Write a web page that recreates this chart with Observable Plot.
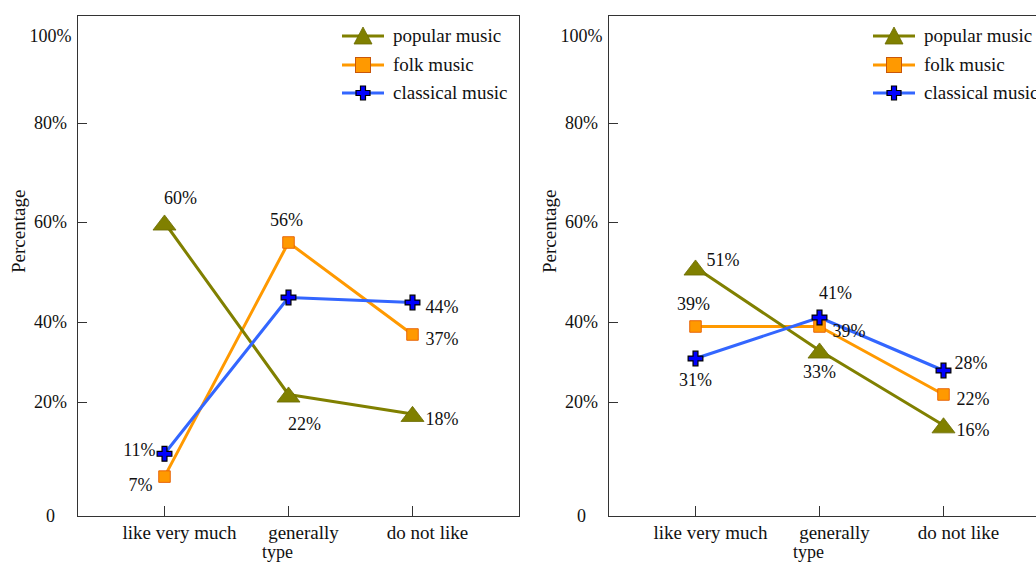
<!DOCTYPE html>
<html><head><meta charset="utf-8">
<script src="https://cdn.jsdelivr.net/npm/d3@7"></script>
<script src="https://cdn.jsdelivr.net/npm/@observablehq/plot@0.6"></script>
<style>
body{margin:0;background:#fff;}
#wrap{display:flex;width:1036px;height:567px;overflow:hidden;}
.chart{position:relative;flex:none;width:531px;height:567px;}
.chart svg text{font-family:'Liberation Serif','Tinos','Times New Roman','DejaVu Serif',serif;}
.legend{position:absolute;left:342px;top:22px;font-family:'Liberation Serif','Tinos','Times New Roman','DejaVu Serif',serif;font-size:19px;color:#111;white-space:nowrap;}
.legend .row{display:flex;align-items:center;height:28.5px;}
.legend svg{margin-right:9px;flex:none;}
</style></head><body><div id="wrap"></div>
<script>
// ---- data ----
const categories = ["like very much", "generally", "do not like"];
const seriesNames = ["popular music", "folk music", "classical music"];
const yTickValues = [0, 20, 40, 60, 80, 100];
const yTickLabels = ["0", "20%", "40%", "60%", "80%", "100%"];
const xTitle = "type";
const yTitle = "Percentage";

// left panel
const leftPopular = [60, 22, 18];
const leftFolk = [7, 56, 37];
const leftClassical = [11, 45, 44];
const leftPopularText = ["60%", "22%", "18%"];
const leftFolkText = ["7%", "56%", "37%"];
const leftClassicalText = ["11%", "", "44%"];

// right panel
const rightPopular = [51, 33, 16];
const rightFolk = [39, 39, 22];
const rightClassical = [31, 41, 28];
const rightPopularText = ["51%", "33%", "16%"];
const rightFolkText = ["39%", "39%", "22%"];
const rightClassicalText = ["31%", "41%", "28%"];

// ---- styling ----
const leftPlaces = [["above-right", "below-right", "right"], ["below-left", "above", "right"], ["left", null, "right"]];
const rightPlaces = [["right-up", "below", "right"], ["above", "right", "right"], ["below", "above-right", "right-up"]];
const placement = {
  "above": {textAnchor: "middle", dx: -2, dy: -22},
  "above-right": {textAnchor: "middle", dx: 16, dy: -24},
  "right": {textAnchor: "start", dx: 13, dy: 5},
  "right-up": {textAnchor: "start", dx: 11, dy: -7},
  "below": {textAnchor: "middle", dx: 0, dy: 22},
  "below-right": {textAnchor: "middle", dx: 16, dy: 30},
  "left": {textAnchor: "end", dx: -9, dy: -4},
  "below-left": {textAnchor: "end", dx: -12, dy: 9}
};
const lineColors = ["#808000", "#FF9900", "#3366FF"];
const font = "'Liberation Serif','Tinos','Times New Roman','DejaVu Serif',serif";
const W = 531, H = 567, mL = 77, mR = 12, mT = 15, mB = 51;

const flatTriangle = {
  draw(ctx, size) {
    const r = Math.sqrt(size / Math.PI);
    const w = 3.2 * r, h = 2.1 * r;
    ctx.moveTo(0, -h / 2);
    ctx.lineTo(w / 2, h / 2);
    ctx.lineTo(-w / 2, h / 2);
    ctx.closePath();
  }
};

function makePanel(vals, texts, places) {
  const rows = [];
  seriesNames.forEach((s, si) => categories.forEach((c, ci) => rows.push({
    series: s, cat: c, value: vals[si][ci], text: texts[si][ci], place: places[si][ci]
  })));
  const bySeries = (s) => rows.filter(r => r.series === s);
  const labelMarks = Object.entries(placement).map(([k, p]) =>
    Plot.text(rows.filter(r => r.place === k && r.text), {
      x: "cat", y: "value", text: "text", fontSize: 18, fill: "#111", ...p
    }));
  return Plot.plot({
    width: W, height: H, marginLeft: mL, marginRight: mR, marginTop: mT, marginBottom: mB,
    style: {fontFamily: font, fontSize: "18px", color: "#111", background: "transparent"},
    x: {type: "point", domain: categories, range: [163, 412], padding: 0},
    y: {type: "linear", domain: yTickValues, range: [516, 402, 322, 222, 123, 36]},
    color: {domain: seriesNames, range: lineColors},
    marks: [
      Plot.frame({stroke: "#333"}),
      Plot.tickY(yTickValues.slice(1, -1), {y: d => d, stroke: "#333", insetRight: (W - mL - mR) - 10}),
      Plot.tickX(categories, {x: d => d, stroke: "#333", insetTop: (H - mT - mB) - 10}),
      Plot.axisY({ticks: yTickValues, tickSize: 0, tickPadding: 27, textAnchor: "middle",
        tickFormat: d => yTickLabels[yTickValues.indexOf(d)], label: null, fontSize: 18}),
      Plot.axisX({tickSize: 0, tickPadding: 9, dx: 15, label: null, fontSize: 19}),
      Plot.text([yTitle], {text: d => d, frameAnchor: "left", dx: -59, dy: 7, rotate: -90, fontSize: 19, fill: "#111"}),
      Plot.text([xTitle], {text: d => d, frameAnchor: "bottom", dx: -21, dy: 41, fontSize: 18, fill: "#111"}),
      Plot.line(bySeries("folk music"), {x: "cat", y: "value", stroke: "series", strokeWidth: 3}),
      Plot.line(bySeries("popular music"), {x: "cat", y: "value", stroke: "series", strokeWidth: 3}),
      Plot.line(bySeries("classical music"), {x: "cat", y: "value", stroke: "series", strokeWidth: 3}),
      Plot.dot(bySeries("popular music"), {x: "cat", y: "value", symbol: flatTriangle, r: 7.2, fill: "#808000", stroke: "#6b6b00", strokeWidth: 0.8}),
      Plot.dot(bySeries("folk music"), {x: "cat", y: "value", symbol: "square", r: 6.5, fill: "#FF9900", stroke: "#E8650A", strokeWidth: 1}),
      Plot.dot(bySeries("classical music"), {x: "cat", y: "value", symbol: "cross", r: 6.2, fill: "#0000FF", stroke: "#000", strokeWidth: 1.2}),
      ...labelMarks
    ]
  });
}

function legend() {
  const div = document.createElement("div");
  div.className = "legend";
  const icons = [
    `<line x1="0" y1="12" x2="42" y2="12" stroke="#808000" stroke-width="3"/><path d="M21,3 L30,20 L12,20 Z" fill="#808000" stroke="#6b6b00" stroke-width="0.8"/>`,
    `<line x1="0" y1="12" x2="42" y2="12" stroke="#FF9900" stroke-width="3"/><rect x="13.5" y="4.5" width="15" height="15" fill="#FF9900" stroke="#C8560A" stroke-width="1"/>`,
    `<line x1="0" y1="12" x2="42" y2="12" stroke="#3366FF" stroke-width="3"/><path d="M18.5,5 h5 v4.5 h4.5 v5 h-4.5 v4.5 h-5 v-4.5 h-4.5 v-5 h4.5 Z" fill="#0000FF" stroke="#000" stroke-width="1.2"/>`
  ];
  seriesNames.forEach((s, i) => {
    const row = document.createElement("div");
    row.className = "row";
    row.innerHTML = `<svg width="42" height="24">${icons[i]}</svg><span>${s}</span>`;
    div.appendChild(row);
  });
  return div;
}

const wrap = document.getElementById("wrap");
[[[leftPopular, leftFolk, leftClassical], [leftPopularText, leftFolkText, leftClassicalText], leftPlaces],
 [[rightPopular, rightFolk, rightClassical], [rightPopularText, rightFolkText, rightClassicalText], rightPlaces]]
.forEach(([v, t, p]) => {
  const c = document.createElement("div");
  c.className = "chart";
  c.appendChild(makePanel(v, t, p));
  c.appendChild(legend());
  wrap.appendChild(c);
});
</script></body></html>
